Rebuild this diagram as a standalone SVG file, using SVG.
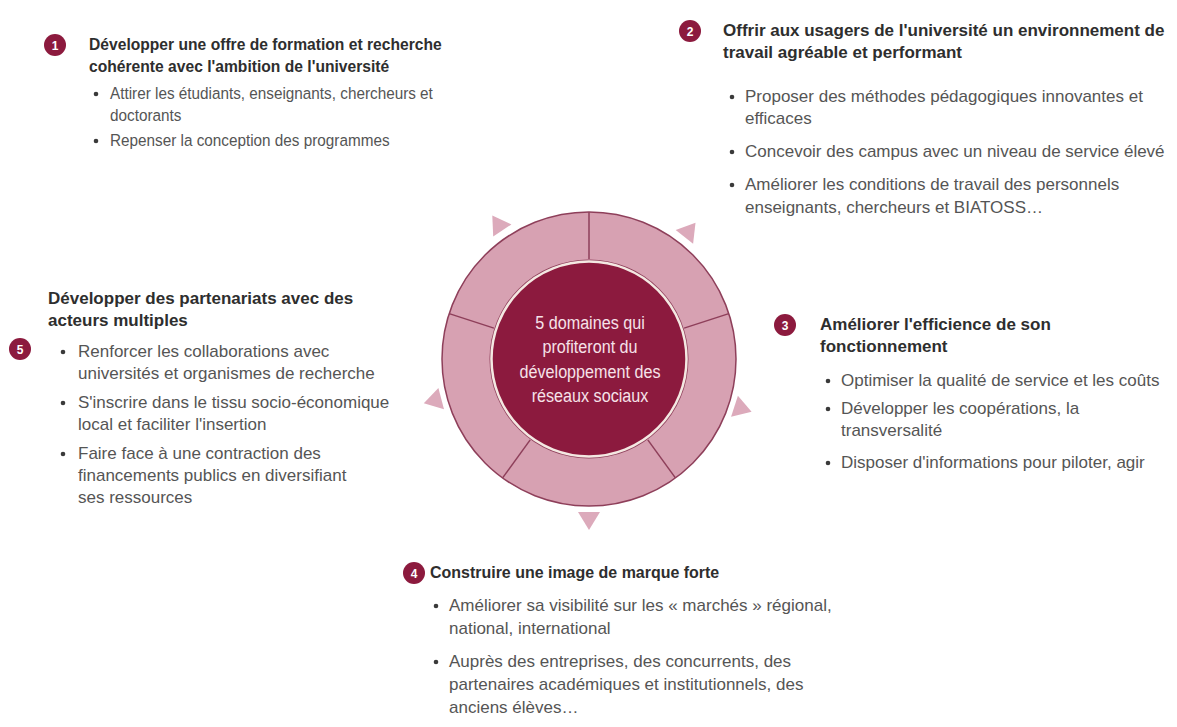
<svg xmlns="http://www.w3.org/2000/svg" width="1177" height="727" viewBox="0 0 1177 727">
<style>
  text { font-family: "Liberation Sans Narrow", "Liberation Sans", Arial, sans-serif; }
  .h { font-size: 17px; font-weight: bold; fill: #2e2e2e; }
  .b { font-size: 17px; fill: #555555; }
  .dot { fill: #3a3a3a; }
  .badge { fill: #8c1a3e; }
  .num { font-size: 12px; font-weight: bold; fill: #ffffff; text-anchor: middle; }
  .ctr { font-size: 19px; fill: #f6e2e9; text-anchor: middle; }
  .ring { fill: #d7a1b2; stroke: #8e3f5a; stroke-width: 1.5; }
  .div { stroke: #8e3f5a; stroke-width: 1.5; }
  .tri { fill: #dcaabb; }
</style>
<rect width="1177" height="727" fill="#ffffff"/>

<g id="connectors">
  <polygon class="tri" points="492.3,215.6 511.4,224.4 493.2,236.6"/>
  <polygon class="tri" points="695.5,222.7 693.1,243.7 675.7,230.1"/>
  <polygon class="tri" points="423.8,403.3 438.4,388.0 444.0,409.2"/>
  <polygon class="tri" points="751.6,411.8 737.9,395.8 731.1,416.8"/>
  <polygon class="tri" points="589,530 578,512 600,512"/>
</g>

<g id="center">
  <circle class="ring" cx="589" cy="359" r="147"/>
  <line class="div" x1="589" y1="259" x2="589" y2="212"/>
  <line class="div" x1="493.9" y1="328.1" x2="449.2" y2="313.6"/>
  <line class="div" x1="684.1" y1="328.1" x2="728.8" y2="313.6"/>
  <line class="div" x1="530.2" y1="439.9" x2="502.6" y2="477.9"/>
  <line class="div" x1="647.8" y1="439.9" x2="675.4" y2="477.9"/>
  <circle cx="589" cy="359" r="99.5" fill="#8e3f5a"/>
  <circle cx="589" cy="359" r="97.5" fill="#8c1a3e" stroke="#f4e8e2" stroke-width="2.5"/>
  <text class="ctr" transform="translate(590,329) scale(0.85,1)">5 domaines qui</text>
  <text class="ctr" transform="translate(590,353) scale(0.85,1)">profiteront du</text>
  <text class="ctr" transform="translate(590,378) scale(0.85,1)">développement des</text>
  <text class="ctr" transform="translate(590,402) scale(0.85,1)">réseaux sociaux</text>
</g>

<g id="domain1">
  <circle class="badge" cx="55" cy="45" r="11"/>
  <text class="num" x="55" y="49.5">1</text>
  <text class="h" transform="translate(89,50) scale(0.92,1)">Développer une offre de formation et recherche</text>
  <text class="h" transform="translate(89,72) scale(0.92,1)">cohérente avec l'ambition de l'université</text>
  <circle class="dot" cx="96" cy="94" r="2.3"/>
  <text class="b" transform="translate(110,99) scale(0.9,1)">Attirer les étudiants, enseignants, chercheurs et</text>
  <text class="b" transform="translate(110,121) scale(0.9,1)">doctorants</text>
  <circle class="dot" cx="96" cy="141" r="2.3"/>
  <text class="b" transform="translate(110,146) scale(0.9,1)">Repenser la conception des programmes</text>
</g>

<g id="domain2">
  <circle class="badge" cx="690" cy="31" r="11"/>
  <text class="num" x="690" y="35.5">2</text>
  <text class="h" transform="translate(723,36) scale(1,1)">Offrir aux usagers de l'université un environnement de</text>
  <text class="h" transform="translate(723,58) scale(1,1)">travail agréable et performant</text>
  <circle class="dot" cx="732" cy="97" r="2.3"/>
  <text class="b" transform="translate(745,102)">Proposer des méthodes pédagogiques innovantes et</text>
  <text class="b" transform="translate(745,124)">efficaces</text>
  <circle class="dot" cx="732" cy="152" r="2.3"/>
  <text class="b" transform="translate(745,157)">Concevoir des campus avec un niveau de service élevé</text>
  <circle class="dot" cx="732" cy="185" r="2.3"/>
  <text class="b" transform="translate(745,190)">Améliorer les conditions de travail des personnels</text>
  <text class="b" transform="translate(745,213)">enseignants, chercheurs et BIATOSS…</text>
</g>

<g id="domain3">
  <circle class="badge" cx="785" cy="325" r="11"/>
  <text class="num" x="785" y="329.5">3</text>
  <text class="h" transform="translate(820,330)">Améliorer l'efficience de son</text>
  <text class="h" transform="translate(820,352)">fonctionnement</text>
  <circle class="dot" cx="828" cy="381" r="2.3"/>
  <text class="b" transform="translate(841,386)">Optimiser la qualité de service et les coûts</text>
  <circle class="dot" cx="828" cy="409" r="2.3"/>
  <text class="b" transform="translate(841,414)">Développer les coopérations, la</text>
  <text class="b" transform="translate(841,436)">transversalité</text>
  <circle class="dot" cx="828" cy="463" r="2.3"/>
  <text class="b" transform="translate(841,468)">Disposer d'informations pour piloter, agir</text>
</g>

<g id="domain4">
  <circle class="badge" cx="414" cy="573" r="11"/>
  <text class="num" x="414" y="577.5">4</text>
  <text class="h" transform="translate(430,578) scale(0.94,1)">Construire une image de marque forte</text>
  <circle class="dot" cx="436" cy="606" r="2.3"/>
  <text class="b" transform="translate(449,611)">Améliorer sa visibilité sur les « marchés » régional,</text>
  <text class="b" transform="translate(449,634)">national, international</text>
  <circle class="dot" cx="436" cy="662" r="2.3"/>
  <text class="b" transform="translate(449,667)">Auprès des entreprises, des concurrents, des</text>
  <text class="b" transform="translate(449,690)">partenaires académiques et institutionnels, des</text>
  <text class="b" transform="translate(449,713)">anciens élèves…</text>
</g>

<g id="domain5">
  <text class="h" transform="translate(48,304)">Développer des partenariats avec des</text>
  <text class="h" transform="translate(48,326)">acteurs multiples</text>
  <circle class="badge" cx="20" cy="349" r="11"/>
  <text class="num" x="20" y="353.5">5</text>
  <circle class="dot" cx="63" cy="352" r="2.3"/>
  <text class="b" transform="translate(78,357)">Renforcer les collaborations avec</text>
  <text class="b" transform="translate(78,379)">universités et organismes de recherche</text>
  <circle class="dot" cx="63" cy="403" r="2.3"/>
  <text class="b" transform="translate(78,408)">S'inscrire dans le tissu socio-économique</text>
  <text class="b" transform="translate(78,430)">local et faciliter l'insertion</text>
  <circle class="dot" cx="63" cy="454" r="2.3"/>
  <text class="b" transform="translate(78,459)">Faire face à une contraction des</text>
  <text class="b" transform="translate(78,481)">financements publics en diversifiant</text>
  <text class="b" transform="translate(78,503)">ses ressources</text>
</g>
</svg>
